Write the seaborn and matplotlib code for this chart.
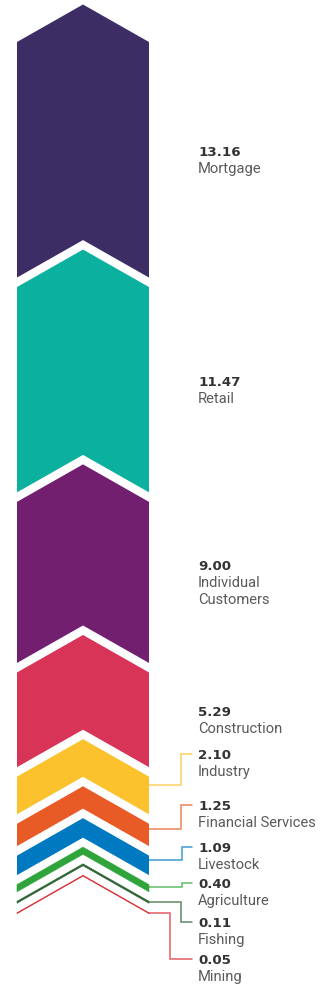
import numpy as np
import matplotlib
matplotlib.use("Agg")
import matplotlib.pyplot as plt
import seaborn as sns

# ---- data ----
categories = ["Mortgage", "Retail", "Individual\nCustomers", "Construction", "Industry",
              "Financial Services", "Livestock", "Agriculture", "Fishing", "Mining"]
values = [13.16, 11.47, 9.00, 5.29, 2.10, 1.25, 1.09, 0.40, 0.11, 0.05]
value_labels = ["13.16", "11.47", "9.00", "5.29", "2.10", "1.25", "1.09", "0.40", "0.11", "0.05"]
colors = ["#3c2d65", "#0bb09e", "#731f70", "#d83457", "#fcc22d",
          "#e95b26", "#0079c1", "#2ea43a", "#2b6332", "#d7282f"]

# ---- layout (pixels) ----
W, H = 333, 984
K = 17.9            # pixels per value unit
GAP = 9.5 / K       # white gap between chevrons (value units)
RISE = 37.5 / K     # chevron rise (value units)
TOP = 4.5 / K
XL, XC, XR = 17, 83, 149
TX = 198
LINE = 17 / K
# label positions for small bands (px of value line); None = centred in band
label_px = [None, None, None, None, 754, 805, 847, 883, 922, 959]
leader_x = [None, None, None, None, 181, 181, 182, 182, 181, 170]

sns.set_theme(style="white")
plt.rcParams["font.family"] = ["Roboto", "DejaVu Sans"]

fig = plt.figure(figsize=(W / 100, H / 100), dpi=100)
ax = fig.add_axes([0, 0, 1, 1])
ax.set_xlim(0, W)
ax.set_ylim((H - 4.5) / K, -TOP)
ax.axis("off")

pal = sns.color_palette(colors)
cum = np.concatenate([[0], np.cumsum(values)[:-1]])
for i, (cat, v, vl) in enumerate(zip(categories, values, value_labels)):
    top = cum[i] + i * GAP
    bot = top + v
    xs = [XL, XC, XR, XR, XC, XL]
    ys = [top + RISE, top, top + RISE, bot + RISE, bot, bot + RISE]
    ax.fill(xs, ys, color=pal[i], lw=0.4 if v < 0.5 else 0, ec=pal[i], zorder=2)

    lines = cat.split("\n")
    if label_px[i] is None:
        n = 1 + len(lines)
        centre = (top + bot) / 2 + RISE
        y0 = centre - (n - 1) * LINE / 2
    else:
        y0 = (label_px[i] - 4.5) / K
        cy = top + RISE + 0.2 * v + 0.5 / K
        lx = leader_x[i]
        ax.plot([XR, lx, lx, 192], [cy, cy, y0, y0], color=pal[i], alpha=0.75,
                lw=1.1, solid_joinstyle="miter", zorder=1)
    cap = 4.8 / K
    ax.text(TX, y0 + cap, vl, fontsize=9.6, fontweight="bold", color="#333333",
            family=["DejaVu Sans"], va="baseline", ha="left")
    for j, ln in enumerate(lines):
        ax.text(TX, y0 + (j + 1) * LINE + cap, ln, fontsize=10.6, color="#5a5a5a",
                va="baseline", ha="left")

fig.savefig("out.png", dpi=100, facecolor="white")
